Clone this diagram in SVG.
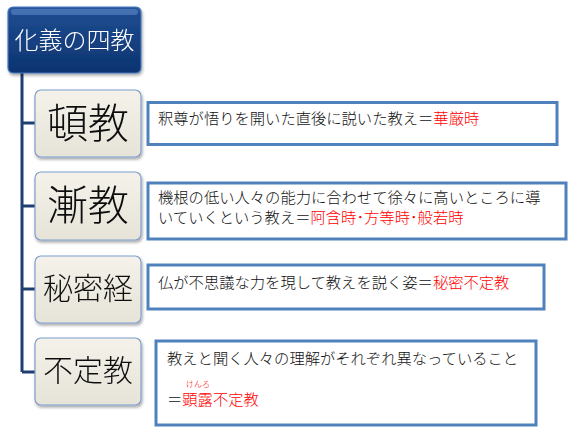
<svg xmlns="http://www.w3.org/2000/svg" width="577" height="440" viewBox="0 0 577 440">
<defs>
<linearGradient id="gTop" x1="0" y1="0" x2="0" y2="1">
<stop offset="0" stop-color="#2a5aa0"/>
<stop offset="0.12" stop-color="#1d4a8e"/>
<stop offset="1" stop-color="#0c3470"/>
</linearGradient>
<linearGradient id="gNode" x1="0" y1="0" x2="0" y2="1">
<stop offset="0" stop-color="#f4f2ea"/>
<stop offset="1" stop-color="#e6e3d8"/>
</linearGradient>
<filter id="sh" x="-10%" y="-10%" width="125%" height="130%">
<feGaussianBlur in="SourceAlpha" stdDeviation="1.5"/>
<feOffset dx="1" dy="2" result="b"/>
<feComponentTransfer><feFuncA type="linear" slope="0.35"/></feComponentTransfer>
<feMerge><feMergeNode/><feMergeNode in="SourceGraphic"/></feMerge>
</filter>
</defs>
<style>
.node rect{fill:url(#gNode);stroke:#7f9fcf;stroke-width:1.2}
.node text{font-family:"Noto Sans CJK JP","Noto Sans CJK SC",sans-serif;font-weight:300;fill:#111;text-anchor:middle}
.box rect{fill:#fff;stroke:#4f81bd;stroke-width:3}
.box text{font-family:"Noto Sans CJK JP","Noto Sans CJK SC",sans-serif;font-size:15.3px;font-weight:300;fill:#111}
.box text.ruby{font-size:8px;fill:#ff0000;text-anchor:middle}
.red{fill:#ff0000}
.conn{stroke:#1f3f72;stroke-width:3;fill:none}
</style>
<rect width="577" height="440" fill="#fff"/>
<g id="connectors">
<path class="conn" d="M22 73 V372"/>
<path class="conn" d="M22 123 H35"/>
<path class="conn" d="M22 206 H35"/>
<path class="conn" d="M22 289 H35"/>
<path class="conn" d="M22 372 H35"/>
</g>
<g id="root" filter="url(#sh)">
<rect x="8" y="7" width="133" height="66" rx="5" fill="url(#gTop)" stroke="#4a78bd" stroke-width="1.2"/>
<rect x="11" y="9" width="127" height="6" rx="3" fill="#5b86c4" opacity="0.6"/>
<text x="74.5" y="49" font-family="'Noto Sans CJK JP','Noto Sans CJK SC',sans-serif" font-weight="300" font-size="24" fill="#fff" text-anchor="middle">化義の四教</text>
</g>
<g id="node-tonkyo" class="node" filter="url(#sh)">
<rect x="35" y="90" width="106" height="67" rx="6"/>
<text x="88" y="138" font-size="41">頓教</text>
</g>
<g id="node-zenkyo" class="node" filter="url(#sh)">
<rect x="35" y="172" width="106" height="68" rx="6"/>
<text x="88" y="220" font-size="41">漸教</text>
</g>
<g id="node-himitsu" class="node" filter="url(#sh)">
<rect x="35" y="256" width="106" height="67" rx="6"/>
<text x="88" y="299" font-size="30">秘密経</text>
</g>
<g id="node-fujo" class="node" filter="url(#sh)">
<rect x="35" y="338" width="106" height="67" rx="6"/>
<text x="88" y="381" font-size="30">不定教</text>
</g>
<g id="box-tonkyo" class="box">
<rect x="148" y="102.5" width="409" height="42"/>
<text x="158" y="124">釈尊が悟りを開いた直後に説いた教え＝<tspan class="red">華厳時</tspan></text>
</g>
<g id="box-zenkyo" class="box">
<rect x="148" y="183" width="418" height="56"/>
<text x="158" y="203">機根の低い人々の能力に合わせて徐々に高いところに導</text>
<text x="158" y="223">いていくという教え＝<tspan class="red">阿含時･方等時･般若時</tspan></text>
</g>
<g id="box-himitsu" class="box">
<rect x="148" y="265" width="396" height="44"/>
<text x="158" y="288">仏が不思議な力を現して教えを説く姿＝<tspan class="red">秘密不定教</tspan></text>
</g>
<g id="box-fujo" class="box">
<rect x="156" y="341" width="380" height="84"/>
<text x="167" y="364">教えと聞く人々の理解がそれぞれ異なっていること</text>
<text x="167" y="405">＝<tspan class="red">顕露不定教</tspan></text>
<text class="ruby" x="198" y="386.5">けんろ</text>
</g>
</svg>
